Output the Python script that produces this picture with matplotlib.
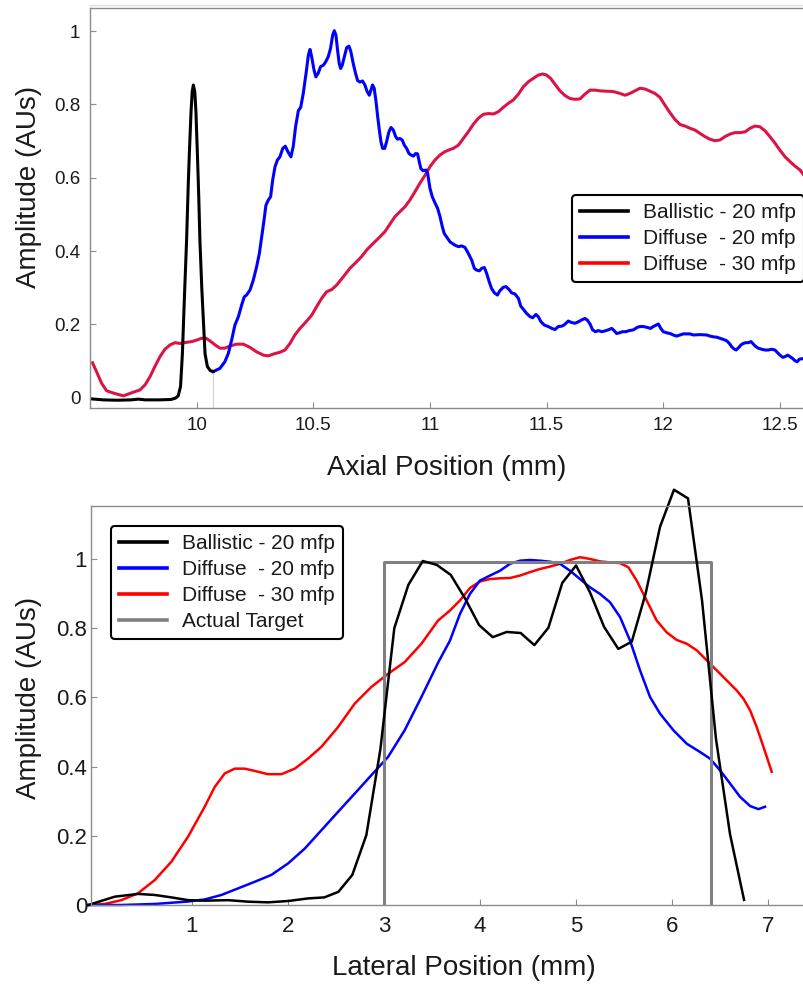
import matplotlib
matplotlib.use('Agg')
import matplotlib.pyplot as plt
from matplotlib.lines import Line2D
from matplotlib.ticker import FuncFormatter

plt.rcParams['font.family'] = ['Liberation Sans', 'DejaVu Sans']

# ---- top panel: axial profiles ----
ax_ball_x = [9.543, 9.60, 9.66, 9.72, 9.75, 9.78, 9.84, 9.89, 9.91, 9.921, 9.931, 9.939, 9.948,
             9.957, 9.964, 9.969, 9.976, 9.981, 9.986, 9.992, 9.997, 10.003, 10.009, 10.014,
             10.022, 10.029, 10.036, 10.046, 10.058, 10.071]
ax_ball_y = [-0.003, -0.006, -0.007, -0.006, -0.004, -0.006, -0.006, -0.005, -0.001, 0.005, 0.03,
             0.12, 0.28, 0.43, 0.58, 0.67, 0.78, 0.835, 0.853, 0.835, 0.78, 0.67, 0.55, 0.43,
             0.30, 0.21, 0.12, 0.085, 0.074, 0.071]

ax_d20_x = [10.071, 10.100, 10.121, 10.136, 10.150, 10.164, 10.179, 10.193, 10.204, 10.214, 10.229,
            10.243, 10.257, 10.269, 10.279, 10.289, 10.297, 10.307, 10.317, 10.326, 10.336, 10.346,
            10.357, 10.369, 10.380, 10.391, 10.404, 10.414, 10.424, 10.436, 10.446, 10.457, 10.469,
            10.479, 10.486, 10.493, 10.503, 10.511, 10.521, 10.531, 10.543, 10.553, 10.564, 10.574,
            10.583, 10.590, 10.597, 10.604, 10.611, 10.617, 10.624, 10.633, 10.643, 10.653, 10.661,
            10.671, 10.681, 10.690, 10.700, 10.711, 10.721, 10.731, 10.740, 10.747, 10.754, 10.761,
            10.769, 10.776, 10.783, 10.790, 10.797, 10.806, 10.814, 10.824, 10.833, 10.843, 10.853,
            10.861, 10.871, 10.881, 10.890, 10.900, 10.910, 10.919, 10.929, 10.939, 10.947, 10.954,
            10.961, 10.971, 10.983, 10.990, 11.000, 11.010, 11.021, 11.033, 11.043, 11.053, 11.061,
            11.071, 11.086, 11.107, 11.122, 11.136, 11.150, 11.164, 11.179, 11.190, 11.200, 11.212,
            11.222, 11.233, 11.243, 11.254, 11.264, 11.276, 11.289, 11.300, 11.314, 11.326, 11.339,
            11.350, 11.364, 11.379, 11.389, 11.400, 11.414, 11.429, 11.440, 11.454, 11.464, 11.476,
            11.490, 11.507, 11.522, 11.536, 11.550, 11.564, 11.574, 11.593, 11.607, 11.622, 11.636,
            11.650, 11.664, 11.674, 11.686, 11.697, 11.709, 11.722, 11.736, 11.750, 11.764, 11.779,
            11.789, 11.800, 11.812, 11.826, 11.840, 11.854, 11.872, 11.889, 11.900, 11.914, 11.929,
            11.946, 11.957, 11.969, 11.979, 11.989, 12.000, 12.014, 12.029, 12.043, 12.057, 12.072,
            12.086, 12.114, 12.129, 12.157, 12.186, 12.200, 12.214, 12.229, 12.243, 12.257, 12.272,
            12.283, 12.293, 12.303, 12.312, 12.322, 12.333, 12.343, 12.354, 12.364, 12.376, 12.386,
            12.397, 12.407, 12.422, 12.436, 12.450, 12.464, 12.479, 12.489, 12.500, 12.512, 12.522,
            12.533, 12.543, 12.554, 12.564, 12.574, 12.583, 12.603]
ax_d20_y = [0.071, 0.080, 0.098, 0.121, 0.157, 0.198, 0.221, 0.253, 0.275, 0.280, 0.294,
            0.321, 0.357, 0.394, 0.439, 0.485, 0.525, 0.539, 0.548, 0.594, 0.630, 0.648,
            0.657, 0.680, 0.686, 0.671, 0.657, 0.685, 0.739, 0.783, 0.792, 0.830, 0.885,
            0.935, 0.950, 0.930, 0.894, 0.875, 0.885, 0.903, 0.907, 0.916, 0.930, 0.953,
            0.989, 1.001, 0.989, 0.948, 0.912, 0.898, 0.907, 0.930, 0.955, 0.959, 0.944,
            0.912, 0.885, 0.865, 0.861, 0.864, 0.853, 0.835, 0.825, 0.839, 0.853, 0.844,
            0.807, 0.766, 0.730, 0.698, 0.680, 0.680, 0.698, 0.725, 0.737, 0.730, 0.712,
            0.705, 0.707, 0.703, 0.689, 0.680, 0.666, 0.662, 0.659, 0.666, 0.665, 0.644,
            0.625, 0.619, 0.621, 0.612, 0.571, 0.548, 0.532, 0.516, 0.494, 0.466, 0.448,
            0.439, 0.425, 0.416, 0.412, 0.414, 0.410, 0.394, 0.375, 0.353, 0.348, 0.346,
            0.353, 0.355, 0.339, 0.316, 0.298, 0.286, 0.280, 0.292, 0.301, 0.303, 0.295,
            0.286, 0.283, 0.271, 0.250, 0.241, 0.230, 0.221, 0.218, 0.227, 0.221, 0.207,
            0.198, 0.194, 0.189, 0.186, 0.194, 0.195, 0.198, 0.209, 0.205, 0.203, 0.207,
            0.212, 0.216, 0.212, 0.201, 0.185, 0.180, 0.183, 0.180, 0.182, 0.185, 0.189,
            0.183, 0.175, 0.177, 0.180, 0.180, 0.183, 0.185, 0.192, 0.194, 0.194, 0.192,
            0.189, 0.194, 0.198, 0.201, 0.189, 0.180, 0.177, 0.175, 0.171, 0.168, 0.171,
            0.174, 0.174, 0.171, 0.172, 0.171, 0.168, 0.166, 0.165, 0.162, 0.159, 0.155,
            0.148, 0.139, 0.133, 0.130, 0.136, 0.144, 0.148, 0.150, 0.150, 0.153, 0.146,
            0.139, 0.135, 0.132, 0.130, 0.130, 0.132, 0.130, 0.123, 0.116, 0.110, 0.112,
            0.116, 0.112, 0.107, 0.101, 0.098, 0.105, 0.107]

ax_d30_x = [9.554, 9.571, 9.593, 9.614, 9.636, 9.657, 9.686, 9.707, 9.729, 9.757, 9.779, 9.800,
            9.821, 9.843, 9.864, 9.886, 9.907, 9.929, 9.957, 9.979, 10.000, 10.021, 10.040, 10.057,
            10.079, 10.100, 10.121, 10.143, 10.171, 10.200, 10.229, 10.257, 10.286, 10.307, 10.329,
            10.357, 10.379, 10.400, 10.421, 10.443, 10.469, 10.493, 10.514, 10.536, 10.557, 10.579,
            10.600, 10.629, 10.657, 10.686, 10.707, 10.729, 10.757, 10.786, 10.807, 10.829, 10.850,
            10.871, 10.893, 10.914, 10.936, 10.957, 10.979, 11.000, 11.021, 11.043, 11.064, 11.086,
            11.100, 11.122, 11.143, 11.164, 11.186, 11.207, 11.229, 11.250, 11.272, 11.293, 11.314,
            11.336, 11.357, 11.379, 11.400, 11.422, 11.443, 11.464, 11.483, 11.500, 11.517, 11.536,
            11.557, 11.579, 11.600, 11.622, 11.643, 11.664, 11.686, 11.707, 11.729, 11.757, 11.786,
            11.814, 11.836, 11.857, 11.879, 11.900, 11.922, 11.943, 11.964, 11.986, 12.007, 12.029,
            12.050, 12.072, 12.093, 12.114, 12.136, 12.157, 12.179, 12.200, 12.222, 12.243, 12.264,
            12.286, 12.307, 12.329, 12.350, 12.372, 12.393, 12.414, 12.436, 12.457, 12.479, 12.500,
            12.522, 12.543, 12.564, 12.586, 12.603]
ax_d30_y = [0.095, 0.071, 0.039, 0.019, 0.014, 0.010, 0.005, 0.010, 0.015, 0.021, 0.035, 0.057,
            0.085, 0.112, 0.132, 0.144, 0.150, 0.148, 0.151, 0.153, 0.157, 0.162, 0.162, 0.155,
            0.144, 0.135, 0.135, 0.141, 0.146, 0.146, 0.137, 0.125, 0.116, 0.114, 0.119,
            0.124, 0.130, 0.148, 0.171, 0.189, 0.207, 0.225, 0.248, 0.271, 0.289, 0.295,
            0.307, 0.330, 0.353, 0.371, 0.385, 0.403, 0.421, 0.439, 0.453, 0.474, 0.494,
            0.507, 0.521, 0.539, 0.562, 0.585, 0.607, 0.630, 0.648, 0.662, 0.671, 0.677,
            0.680, 0.689, 0.707, 0.725, 0.746, 0.762, 0.773, 0.775, 0.774, 0.780, 0.792,
            0.803, 0.812, 0.828, 0.848, 0.862, 0.871, 0.880, 0.883, 0.880, 0.871, 0.855,
            0.837, 0.824, 0.816, 0.814, 0.815, 0.828, 0.839, 0.839, 0.837, 0.836, 0.835,
            0.830, 0.825, 0.830, 0.837, 0.844, 0.842, 0.836, 0.830, 0.819, 0.798, 0.777,
            0.759, 0.745, 0.741, 0.735, 0.730, 0.721, 0.712, 0.705, 0.701, 0.703, 0.712,
            0.719, 0.723, 0.723, 0.725, 0.735, 0.741, 0.739, 0.728, 0.712, 0.694, 0.675,
            0.657, 0.644, 0.632, 0.621, 0.607]

# ---- bottom panel: lateral profiles ----
lat_ball_x = [-0.075, 0.198, 0.441, 0.615, 0.788, 0.962, 1.135, 1.378, 1.586, 1.794, 2.002, 2.21,
              2.38, 2.526, 2.671, 2.817, 2.963, 3.108, 3.254, 3.404, 3.549, 3.695, 3.844, 3.990,
              4.132, 4.278, 4.423, 4.565, 4.711, 4.856, 4.999, 5.145, 5.290, 5.439, 5.579, 5.724,
              5.873, 6.018, 6.164, 6.310, 6.455, 6.601, 6.747]
lat_ball_y = [0.0, 0.024, 0.032, 0.029, 0.022, 0.014, 0.0125, 0.014, 0.0096, 0.0077, 0.0115, 0.019,
              0.022, 0.038, 0.087, 0.202, 0.45, 0.80, 0.925, 0.994, 0.983, 0.954, 0.886, 0.809,
              0.774, 0.789, 0.786, 0.751, 0.801, 0.931, 0.981, 0.903, 0.804, 0.740, 0.761, 0.901,
              1.093, 1.20, 1.175, 0.88, 0.48, 0.205, 0.015]

lat_d20_x = [-0.075, 0.268, 0.615, 0.961, 1.135, 1.309, 1.482, 1.655, 1.829, 2.002, 2.176, 2.349,
             2.522, 2.696, 2.869, 3.043, 3.216, 3.39, 3.563, 3.687, 3.791, 3.895, 3.999, 4.104,
             4.208, 4.312, 4.416, 4.52, 4.624, 4.728, 4.832, 4.936, 5.04, 5.144, 5.248, 5.352,
             5.457, 5.561, 5.665, 5.769, 5.873, 6.012, 6.151, 6.29, 6.393, 6.498, 6.602, 6.706,
             6.81, 6.897, 6.966]
lat_d20_y = [0.0, 0.0, 0.003, 0.010, 0.016, 0.029, 0.048, 0.067, 0.087, 0.12, 0.163, 0.216,
             0.269, 0.322, 0.375, 0.428, 0.505, 0.601, 0.70, 0.764, 0.841, 0.899, 0.9375, 0.952,
             0.966, 0.986, 0.995, 0.997, 0.995, 0.992, 0.986, 0.966, 0.942, 0.918, 0.899, 0.875,
             0.832, 0.764, 0.678, 0.601, 0.553, 0.505, 0.466, 0.442, 0.423, 0.389, 0.351, 0.3125,
             0.286, 0.277, 0.284]

lat_d30_x = [-0.075, 0.094, 0.268, 0.441, 0.615, 0.788, 0.961, 1.135, 1.239, 1.343, 1.447, 1.551,
             1.655, 1.794, 1.933, 2.072, 2.21, 2.349, 2.522, 2.696, 2.869, 3.043, 3.216, 3.39,
             3.563, 3.687, 3.791, 3.895, 3.999, 4.104, 4.208, 4.312, 4.416, 4.52, 4.624, 4.728,
             4.832, 4.936, 5.04, 5.144, 5.248, 5.352, 5.457, 5.543, 5.63, 5.734, 5.838, 5.942,
             6.046, 6.151, 6.255, 6.359, 6.463, 6.567, 6.671, 6.741, 6.81, 6.879, 6.949, 7.035]
lat_d30_y = [0.0, 0.003, 0.014, 0.034, 0.072, 0.125, 0.197, 0.284, 0.341, 0.38, 0.394, 0.394,
             0.3875, 0.378, 0.378, 0.394, 0.423, 0.457, 0.514, 0.582, 0.63, 0.668, 0.702, 0.755,
             0.822, 0.851, 0.88, 0.916, 0.935, 0.942, 0.944, 0.945, 0.952, 0.962, 0.971, 0.978,
             0.986, 0.997, 1.005, 1.0, 0.993, 0.99, 0.988, 0.976, 0.9375, 0.88, 0.822, 0.788,
             0.766, 0.755, 0.736, 0.707, 0.678, 0.649, 0.62, 0.596, 0.5625, 0.514, 0.457, 0.385]

target_x = [3.0, 3.0, 6.4, 6.4]
target_y = [0.0, 0.99, 0.99, 0.0]

labels = ['Ballistic - 20 mfp', 'Diffuse  - 20 mfp', 'Diffuse  - 30 mfp', 'Actual Target']

BLUE = '#0000ff'
RED = '#ff0000'
CRIMSON = '#dc1446'
GRAY = '#808080'
SPINE = '#8c8c8c'
TXT = '#1a1a1a'

fig = plt.figure(figsize=(8.04, 9.85), dpi=100)
W, H = 804.0, 985.0

ax1 = fig.add_axes([90 / W, 1 - 408.3 / H, 714 / W, 400.3 / H])
ax2 = fig.add_axes([91.3 / W, 1 - 905 / H, 712.7 / W, 399 / H])

fmt = FuncFormatter(lambda v, p: f'{v:g}')

for ax in (ax1, ax2):
    for s in ('left', 'bottom', 'top'):
        ax.spines[s].set_color(SPINE)
        ax.spines[s].set_linewidth(1.0)
    ax.spines['right'].set_visible(False)
    ax.xaxis.set_major_formatter(fmt)
    ax.yaxis.set_major_formatter(fmt)

legend_kw = dict(loc='upper left', borderaxespad=0, fontsize=15, handlelength=2.3,
                 handletextpad=0.75, labelspacing=0.34, borderpad=0.38, fancybox=True,
                 framealpha=1)

# top
ax1.plot(ax_d30_x, ax_d30_y, color=CRIMSON, lw=2.2, solid_joinstyle='round')
ax1.plot(ax_d20_x, ax_d20_y, color=BLUE, lw=2.2, solid_joinstyle='round')
ax1.plot(ax_ball_x, ax_ball_y, color='black', lw=2.2, solid_joinstyle='round')
ax1.plot([10.071, 10.071], [-0.03, 0.068], color='#d0d0d0', lw=0.8)
ax1.set_xlim(9.543, 12.603)
ax1.set_ylim(-0.029, 1.063)
ax1.set_xticks([10, 10.5, 11, 11.5, 12, 12.5])
ax1.set_yticks([0, 0.2, 0.4, 0.6, 0.8, 1.0])
ax1.tick_params(axis='both', direction='in', length=4.5, width=0.8, color=SPINE,
                labelsize=13.5, labelcolor=TXT)
ax1.tick_params(axis='x', pad=6.5)
ax1.tick_params(axis='y', pad=7)

h1 = [Line2D([], [], color='black', lw=2.6),
      Line2D([], [], color=BLUE, lw=2.6),
      Line2D([], [], color=RED, lw=2.6)]
leg1 = ax1.legend(h1, labels[:3], bbox_to_anchor=(0.675, 0.533), **legend_kw)
leg1.get_frame().set_edgecolor('black')
leg1.get_frame().set_linewidth(1.5)
for t in leg1.get_texts():
    t.set_color(TXT)

# bottom
ax2.plot(lat_d30_x, lat_d30_y, color=RED, lw=1.8, clip_on=False)
ax2.plot(lat_d20_x, lat_d20_y, color=BLUE, lw=1.8, clip_on=False)
ax2.plot(target_x, target_y, color=GRAY, lw=2.2)
ax2.plot(lat_ball_x, lat_ball_y, color='black', lw=1.8, clip_on=False)
ax2.set_xlim(-0.045, 7.371)
ax2.set_ylim(0, 1.153)
ax2.set_xticks([1, 2, 3, 4, 5, 6, 7])
ax2.set_yticks([0, 0.2, 0.4, 0.6, 0.8, 1.0])
ax2.tick_params(axis='both', direction='in', length=4.5, width=0.8, color=SPINE,
                labelsize=16, labelcolor=TXT)
ax2.tick_params(axis='x', pad=8)
ax2.tick_params(axis='y', pad=3)

h2 = [Line2D([], [], color='black', lw=2.6),
      Line2D([], [], color=BLUE, lw=2.6),
      Line2D([], [], color=RED, lw=2.6),
      Line2D([], [], color=GRAY, lw=2.6)]
leg2 = ax2.legend(h2, labels, bbox_to_anchor=(0.0276, 0.95), **legend_kw)
leg2.get_frame().set_edgecolor('black')
leg2.get_frame().set_linewidth(1.5)
for t in leg2.get_texts():
    t.set_color(TXT)

# axis titles
fig.text(29 / W, 1 - 187 / H, 'Amplitude (AUs)', rotation=90, ha='center', va='center',
         fontsize=20, color=TXT)
fig.text(447 / W, 1 - 468 / H, 'Axial Position (mm)', ha='center', va='center',
         fontsize=20, color=TXT)
fig.text(29 / W, 1 - 698 / H, 'Amplitude (AUs)', rotation=90, ha='center', va='center',
         fontsize=20, color=TXT)
fig.text(464 / W, 1 - 968 / H, 'Lateral Position (mm)', ha='center', va='center',
         fontsize=20, color=TXT)

# faint frame line above the top panel
fig.add_artist(Line2D([90 / W, 1], [1 - 5 / H, 1 - 5 / H], color='#dddddd', lw=1))

fig.savefig('out.png', dpi=100)
